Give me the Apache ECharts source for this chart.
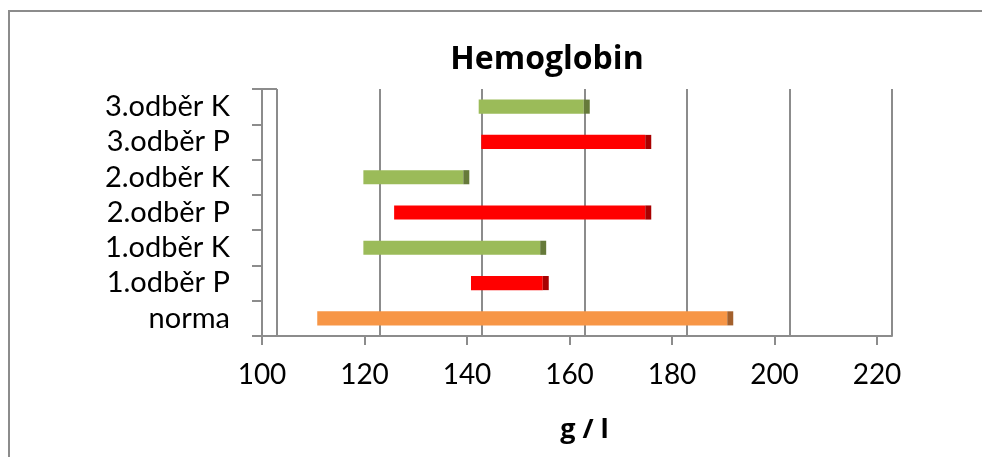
<!DOCTYPE html>
<html><head><meta charset="utf-8">
<script src="https://cdn.jsdelivr.net/npm/echarts@6/dist/echarts.min.js"></script>
<style>html,body{margin:0;padding:0;background:#fff}#chart{width:982px;height:457px}</style>
</head><body><div id="chart"></div>
<script>
// Hemoglobin ranges per sampling (g/l)
const categories = ['norma', '1.odběr P', '1.odběr K', '2.odběr P', '2.odběr K', '3.odběr P', '3.odběr K'];
const rangeStart = [110, 140, 119, 125, 119, 142, 141.5];
const rangeEnd = [190, 154, 153.5, 174, 138.5, 174, 162];
const xTicks = [100, 120, 140, 160, 180, 200, 220];

const FONT = 'Lato';
const TITLE_FONT = 'Open Sans';
const LINE = '#8c8c8c';
// front face / end cap colours by sample type
const palette = {
  norma: ['#F79646', '#A3602C'],
  P: ['#FF0000', '#A80000'],
  K: ['#9BBB59', '#667A3A']
};
function kind(name) { return name === 'norma' ? 'norma' : name.slice(-1); }

// plot box and pseudo-3D depth
const PLOT = { left: 262, top: 89, right: 105, bottom: 121 };
const DEPTH = 15;     // back wall shift
const BAR_SHIFT = 4;  // bar front face shift
const CAP = 6;        // visible bar end depth

const xMin = xTicks[0], xMax = xTicks[xTicks.length - 1], xStep = xTicks[1] - xTicks[0];

const chart = echarts.init(document.getElementById('chart'), null, { renderer: 'canvas' });

const option = {
  backgroundColor: '#ffffff',
  animation: false,
  title: {
    text: 'Hemoglobin',
    left: 542, top: 39, textAlign: 'center',
    textStyle: { fontFamily: TITLE_FONT, fontWeight: 'bold', fontSize: 32, color: '#000' }
  },
  grid: [
    { left: PLOT.left, top: PLOT.top, right: PLOT.right, bottom: PLOT.bottom },
    { left: PLOT.left + DEPTH, top: PLOT.top, right: PLOT.right - DEPTH, bottom: PLOT.bottom }
  ],
  xAxis: [
    {
      gridIndex: 0, type: 'value', min: xMin, max: xMax, interval: xStep,
      axisLine: { show: true, lineStyle: { color: LINE, width: 2 } },
      axisTick: { show: true, length: 9, lineStyle: { color: LINE, width: 2 } },
      axisLabel: { fontFamily: FONT, fontSize: 28, color: '#000', margin: 25 },
      splitLine: { show: false }
    },
    {
      gridIndex: 1, type: 'value', min: xMin, max: xMax, interval: xStep,
      axisLine: { show: true, lineStyle: { color: LINE, width: 2 } },
      axisTick: { show: false },
      axisLabel: { show: false },
      splitLine: { show: true, lineStyle: { color: LINE, width: 2 } },
      name: 'g / l', nameLocation: 'middle', nameGap: 81,
      nameTextStyle: { fontFamily: TITLE_FONT, fontWeight: 'bold', fontSize: 27, color: '#000' }
    }
  ],
  yAxis: [
    {
      gridIndex: 0, type: 'category', data: categories,
      axisLine: { show: true, lineStyle: { color: LINE, width: 2 } },
      axisTick: { show: true, length: 10, lineStyle: { color: LINE, width: 2 } },
      axisLabel: {
        interval: 0, hideOverlap: false,
        fontFamily: FONT, fontSize: 29, color: '#000', margin: 32, padding: [8, 0, 0, 0]
      },
      splitLine: { show: false }
    },
    { gridIndex: 1, type: 'category', data: categories, show: false }
  ],
  series: [{
    type: 'custom',
    xAxisIndex: 0, yAxisIndex: 0,
    data: categories.map((c, i) => [i, rangeStart[i], rangeEnd[i]]),
    encode: { x: [1, 2], y: 0 },
    z: 5,
    renderItem: function (params, api) {
      const i = api.value(0);
      const a = api.coord([api.value(1), i]);
      const b = api.coord([api.value(2), i]);
      const h = api.size([0, 1])[1] * 0.4;
      const col = palette[kind(categories[i])];
      return {
        type: 'group',
        children: [
          { type: 'rect', shape: { x: a[0] + BAR_SHIFT, y: a[1] - h / 2, width: b[0] - a[0], height: h }, style: { fill: col[0] } },
          { type: 'rect', shape: { x: b[0] + BAR_SHIFT, y: a[1] - h / 2, width: CAP, height: h }, style: { fill: col[1] } }
        ]
      };
    }
  }],
  graphic: [
    // chart frame
    { type: 'polyline', shape: { points: [[9, 457], [9, 11], [982, 11]] }, style: { stroke: LINE, lineWidth: 2, fill: null } },
    // side wall top edge
    { type: 'line', shape: { x1: PLOT.left, y1: PLOT.top, x2: PLOT.left + DEPTH, y2: PLOT.top }, style: { stroke: LINE, lineWidth: 2 } }
  ]
};
chart.setOption(option);
</script>
</body></html>
